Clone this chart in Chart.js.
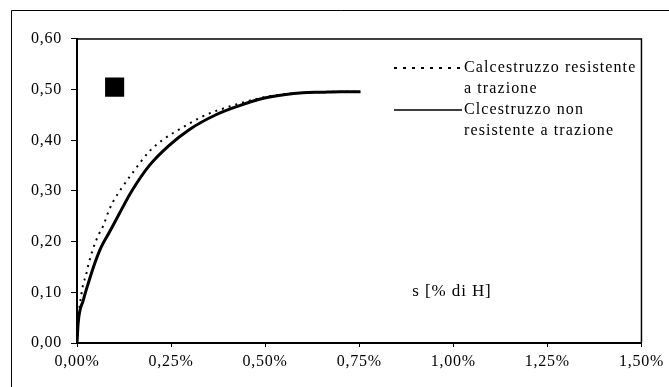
<!DOCTYPE html>
<html>
<head>
<meta charset="utf-8">
<script src="https://cdn.jsdelivr.net/npm/chart.js@4.4.0/dist/chart.umd.min.js"></script>
<style>
  html, body { margin: 0; padding: 0; background: #fff; }
  #wrap { width: 669px; height: 387px; position: relative; }
</style>
</head>
<body>
<div id="wrap"><canvas id="myChart"></canvas></div>
<script>
'use strict';

// settlement s [% of H] and load for the two concrete models
let resistX = [0, 0.004, 0.012, 0.017, 0.024, 0.030, 0.036, 0.043, 0.059, 0.069, 0.085, 0.096, 0.118, 0.144, 0.192, 0.226, 0.28, 0.342, 0.42, 0.49, 0.55, 0.6, 0.65, 0.7, 0.753];
let resistY = [0, 0.05, 0.098, 0.118, 0.134, 0.154, 0.170, 0.187, 0.216, 0.230, 0.262, 0.279, 0.305, 0.332, 0.378, 0.40, 0.425, 0.45, 0.47, 0.484, 0.491, 0.494, 0.495, 0.496, 0.496];

let nonResistX = [0, 0.003, 0.017, 0.030, 0.047, 0.061, 0.087, 0.113, 0.144, 0.192, 0.245, 0.30, 0.368, 0.43, 0.49, 0.55, 0.6, 0.65, 0.7, 0.753];
let nonResistY = [0, 0.039, 0.085, 0.118, 0.157, 0.184, 0.220, 0.256, 0.298, 0.350, 0.390, 0.422, 0.45, 0.468, 0.482, 0.49, 0.494, 0.495, 0.496, 0.496];

// single square marker
let markerX = [0.10];
let markerY = [0.505];

let seriesNames = [
  ['Calcestruzzo resistente', 'a trazione'],
  ['Clcestruzzo non', 'resistente a trazione']
];

let xTickLabels = ['0,00%', '0,25%', '0,50%', '0,75%', '1,00%', '1,25%', '1,50%'];
let yTickLabels = ['0,00', '0,10', '0,20', '0,30', '0,40', '0,50', '0,60'];
let xTitle = 's [% di H]';

const FONT = '"Liberation Serif", "Times New Roman", serif';

function toPoints(xs, ys) {
  let pts = [];
  for (let i = 0; i < xs.length; i++) {
    pts.push({ x: xs[i], y: ys[i] });
  }
  return pts;
}

// frame, plot box, in-plot legend and axis caption
let decorations = {
  id: 'decorations',
  beforeLayout(chart) {
    chart.ctx.letterSpacing = '0.75px';
  },
  beforeDraw(chart) {
    chart.ctx.letterSpacing = '0.75px';
  },
  afterDraw(chart) {
    let ctx = chart.ctx;
    let area = chart.chartArea;
    ctx.save();

    // outer frame
    ctx.strokeStyle = '#000';
    ctx.lineWidth = 1;
    ctx.beginPath();
    ctx.moveTo(11.5, 390);
    ctx.lineTo(11.5, 10.5);
    ctx.lineTo(672, 10.5);
    ctx.stroke();

    // top and right edges of the plot
    ctx.lineWidth = 1.5;
    ctx.beginPath();
    ctx.moveTo(area.left, area.top);
    ctx.lineTo(area.right, area.top);
    ctx.lineTo(area.right, area.bottom);
    ctx.stroke();

    // legend
    ctx.font = '16px ' + FONT;
    ctx.letterSpacing = '1.1px';
    ctx.fillStyle = '#000';
    ctx.textBaseline = 'middle';
    ctx.textAlign = 'left';
    let rows = [68, 110];
    for (let i = 0; i < 2; i++) {
      let y = rows[i];
      ctx.setLineDash(i === 0 ? [3, 6] : []);
      ctx.lineWidth = i === 0 ? 2 : 1.5;
      ctx.beginPath();
      ctx.moveTo(394, y);
      ctx.lineTo(462, y);
      ctx.stroke();
      ctx.setLineDash([]);
      for (let j = 0; j < seriesNames[i].length; j++) {
        ctx.fillText(seriesNames[i][j], 464, y + j * 20.5);
      }
    }

    // axis caption inside the plot
    ctx.font = '17px ' + FONT;
    ctx.letterSpacing = '0.9px';
    ctx.textAlign = 'center';
    ctx.fillText(xTitle, 452, 292);
    ctx.restore();
  }
};

let chartObject = {
  type: 'scatter',
  data: {
    datasets: [{
      label: seriesNames[0].join(' '),
      data: toPoints(resistX, resistY),
      showLine: true,
      borderColor: '#000',
      borderWidth: 2,
      borderDash: [2, 5],
      pointRadius: 0,
      cubicInterpolationMode: 'monotone'
    },
    {
      label: seriesNames[1].join(' '),
      data: toPoints(nonResistX, nonResistY),
      showLine: true,
      borderColor: '#000',
      borderWidth: 3,
      pointRadius: 0,
      cubicInterpolationMode: 'monotone'
    },
    {
      label: 'marker',
      data: toPoints(markerX, markerY),
      pointStyle: 'rect',
      pointRadius: 13.5,
      backgroundColor: '#000',
      borderColor: '#000',
      borderWidth: 0
    }]
  },
  options: {
    responsive: true,
    maintainAspectRatio: false,
    animation: false,
    layout: {
      padding: { top: 39, right: 22, left: 0, bottom: 0 }
    },
    plugins: {
      legend: { display: false },
      tooltip: { enabled: false }
    },
    scales: {
      x: {
        type: 'linear',
        min: 0,
        max: 1.5,
        afterFit(scale) { scale.height = 44; },
        afterBuildTicks(scale) {
          scale.ticks = xTickLabels.map((t, i) => ({ value: i * 0.25 }));
        },
        ticks: {
          color: '#000',
          padding: 5,
          maxRotation: 0,
          autoSkip: false,
          font: { family: FONT, size: 16 },
          callback: (v, i) => xTickLabels[i]
        },
        grid: { drawOnChartArea: false, drawTicks: true, tickLength: 4, color: '#000', lineWidth: 1 },
        border: { display: true, color: '#000', width: 2 }
      },
      y: {
        type: 'linear',
        min: 0,
        max: 0.6,
        afterFit(scale) { scale.width = 77; },
        afterBuildTicks(scale) {
          scale.ticks = yTickLabels.map((t, i) => ({ value: i * 0.1 }));
        },
        ticks: {
          color: '#000',
          padding: 9,
          autoSkip: false,
          font: { family: FONT, size: 16 },
          callback: (v, i) => yTickLabels[i]
        },
        grid: { drawOnChartArea: false, drawTicks: true, tickLength: 6, color: '#000', lineWidth: 1 },
        border: { display: true, color: '#000', width: 2 }
      }
    }
  },
  plugins: [decorations]
};

let ctx = document.getElementById('myChart').getContext('2d');
let myChart = new Chart(ctx, chartObject);
</script>
</body>
</html>
